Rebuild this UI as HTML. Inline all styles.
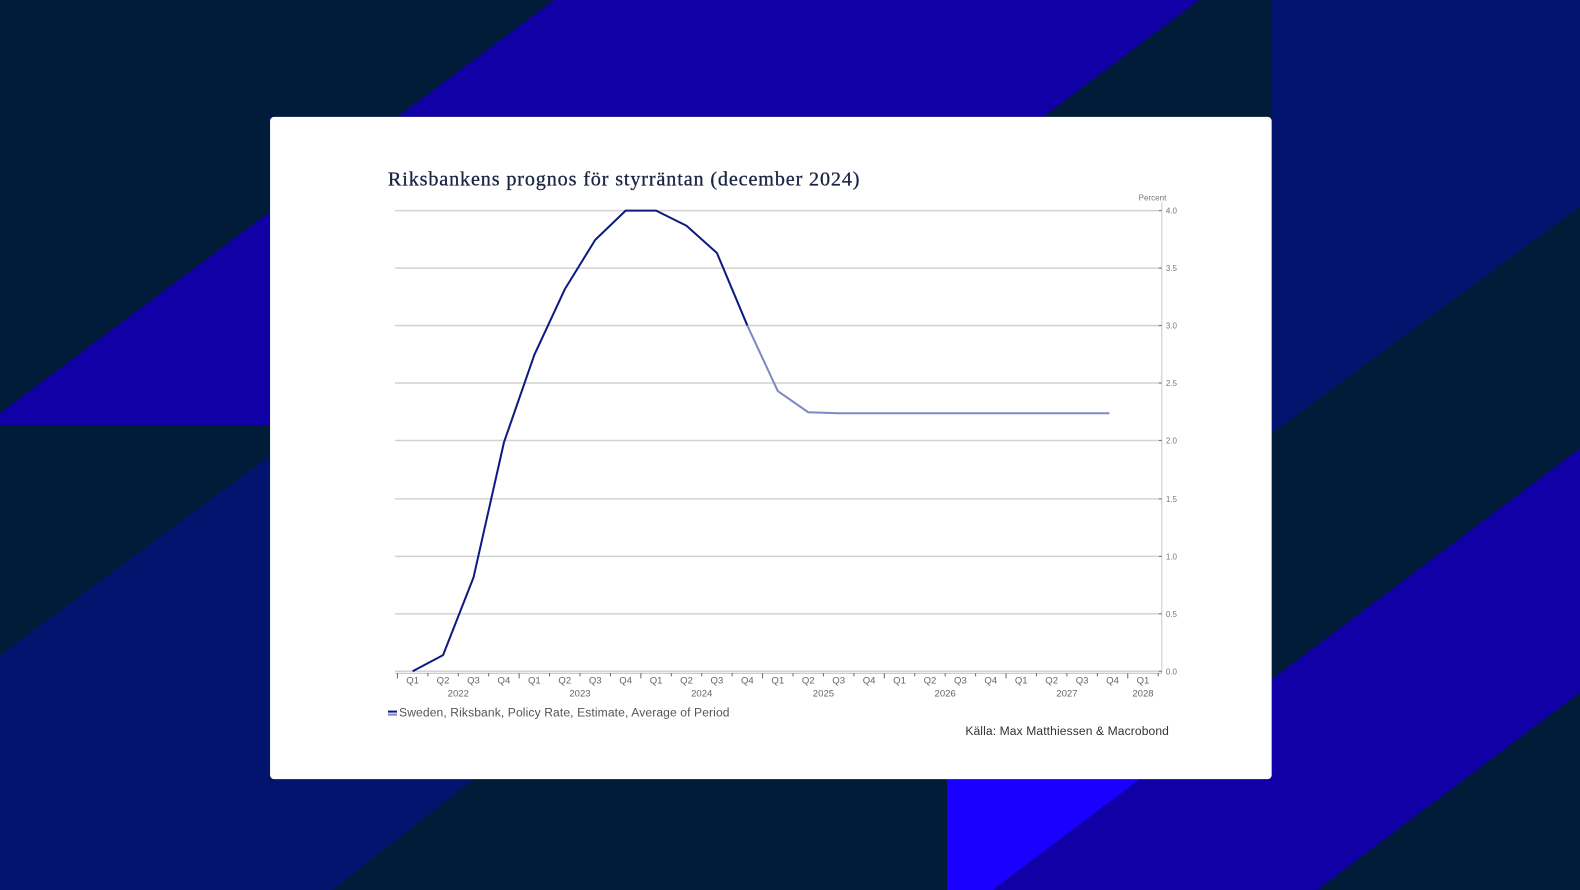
<!DOCTYPE html>
<html><head><meta charset="utf-8"><style>
html,body{margin:0;padding:0;width:1580px;height:890px;overflow:hidden;background:#011c38}
svg{display:block}
</style></head><body>
<svg width="1580" height="890" viewBox="0 0 1568 883" preserveAspectRatio="none" xmlns="http://www.w3.org/2000/svg">
<rect width="1568" height="883" fill="#011c38"/>
<polygon points="550,0 1190,0 1035,116 268,116 268,422 0,422 0,410" fill="#1000a6"/>
<polygon points="1262,0 1568,0 1568,205 1262,430" fill="#03146e"/>
<polygon points="1262,674 1568,445 1568,687 1307,883 1262,883" fill="#1000a6"/>
<polygon points="1131,773 1262,674 1262,883 985,883" fill="#1000a6"/>
<polygon points="940,773 1131,773 985,883 940,883" fill="#1a00ff"/>
<polygon points="0,650 268,452 268,773 470,773 330,883 0,883" fill="#03146e"/>
<rect x="268" y="116" width="994" height="657" rx="4" fill="#fff"/>
<text x="385" y="184" font-family="Liberation Serif, serif" font-size="20" fill="#1a2542" stroke="#1a2542" stroke-width="0.3" textLength="468">Riksbankens prognos för styrräntan (december 2024)</text>
<g stroke="#d2d2d2" stroke-width="1.5">
<line x1="392" y1="209" x2="1152" y2="209"/><line x1="392" y1="266" x2="1152" y2="266"/>
<line x1="392" y1="323" x2="1152" y2="323"/><line x1="392" y1="380" x2="1152" y2="380"/>
<line x1="392" y1="437" x2="1152" y2="437"/><line x1="392" y1="495" x2="1152" y2="495"/>
<line x1="392" y1="552" x2="1152" y2="552"/><line x1="392" y1="609" x2="1152" y2="609"/>
<line x1="392" y1="666" x2="1152" y2="666"/>
</g>
<line x1="1153" y1="200" x2="1153" y2="668" stroke="#c8c8c8" stroke-width="1"/>
<line x1="392" y1="668" x2="1153" y2="668" stroke="#bbb" stroke-width="1"/>
<g font-family="Liberation Sans, sans-serif" font-size="8" fill="#777">
<text x="1130" y="199">Percent</text>
<text x="1157" y="212">4.0</text><text x="1157" y="269">3.5</text><text x="1157" y="326">3.0</text>
<text x="1157" y="383">2.5</text><text x="1157" y="440">2.0</text><text x="1157" y="498">1.5</text>
<text x="1157" y="555">1.0</text><text x="1157" y="612">0.5</text><text x="1157" y="669">0.0</text>
</g>
<g stroke="#777" stroke-width="1">
<line x1="1150" y1="209" x2="1153" y2="209"/><line x1="1150" y1="266" x2="1153" y2="266"/>
<line x1="1150" y1="323" x2="1153" y2="323"/><line x1="1150" y1="380" x2="1153" y2="380"/>
<line x1="1150" y1="437" x2="1153" y2="437"/><line x1="1150" y1="495" x2="1153" y2="495"/>
<line x1="1150" y1="552" x2="1153" y2="552"/><line x1="1150" y1="609" x2="1153" y2="609"/>
<line x1="1150" y1="666" x2="1153" y2="666"/>
</g>
<g id="ticks" stroke="#666" stroke-width="1"></g>
<g id="xl" font-family="Liberation Sans, sans-serif" font-size="9.5" fill="#666" text-anchor="middle"></g>
<polyline fill="none" stroke="#0d1a80" stroke-width="2" stroke-linejoin="round"
 points="409.5,666 439.7,650 469.9,573 500.1,439 530.3,352 560.5,287 590.7,238 620.9,209 651.1,209 681.3,224 711.5,251 741.7,323"/>
<polyline fill="none" stroke="#7f88c4" stroke-width="2" stroke-linejoin="round"
 points="741.7,323 771.9,388 802.1,409 832.3,410 1101,410"/>
<rect x="385" y="705" width="9" height="2" fill="#0d1a80"/><rect x="385" y="708" width="9" height="2" fill="#7f88c4"/>
<text x="396" y="711" font-family="Liberation Sans, sans-serif" font-size="12" fill="#555" textLength="328">Sweden, Riksbank, Policy Rate, Estimate, Average of Period</text>
<text x="958" y="729" font-family="Liberation Sans, sans-serif" font-size="12" fill="#333" textLength="202">Källa: Max Matthiessen &amp; Macrobond</text>
</svg>
<script>
var ns="http://www.w3.org/2000/svg";
var t=document.getElementById('ticks'),xl=document.getElementById('xl');
for(var i=0;i<=25;i++){var x=394.4+30.2*i;var l=document.createElementNS(ns,'line');
l.setAttribute('x1',x);l.setAttribute('x2',x);l.setAttribute('y1',668);l.setAttribute('y2',i%4==0?673:671);t.appendChild(l);}
for(var i=0;i<25;i++){var x=409.5+30.2*i;var e=document.createElementNS(ns,'text');
e.setAttribute('x',x);e.setAttribute('y',678);e.textContent='Q'+(i%4+1);xl.appendChild(e);}
var yrs=['2022','2023','2024','2025','2026','2027'];
for(var k=0;k<6;k++){var e=document.createElementNS(ns,'text');e.setAttribute('x',454.8+120.8*k);e.setAttribute('y',691);e.textContent=yrs[k];xl.appendChild(e);}
var e=document.createElementNS(ns,'text');e.setAttribute('x',409.5+30.2*24);e.setAttribute('y',691);e.textContent='2028';xl.appendChild(e);
</script>
</body></html>
